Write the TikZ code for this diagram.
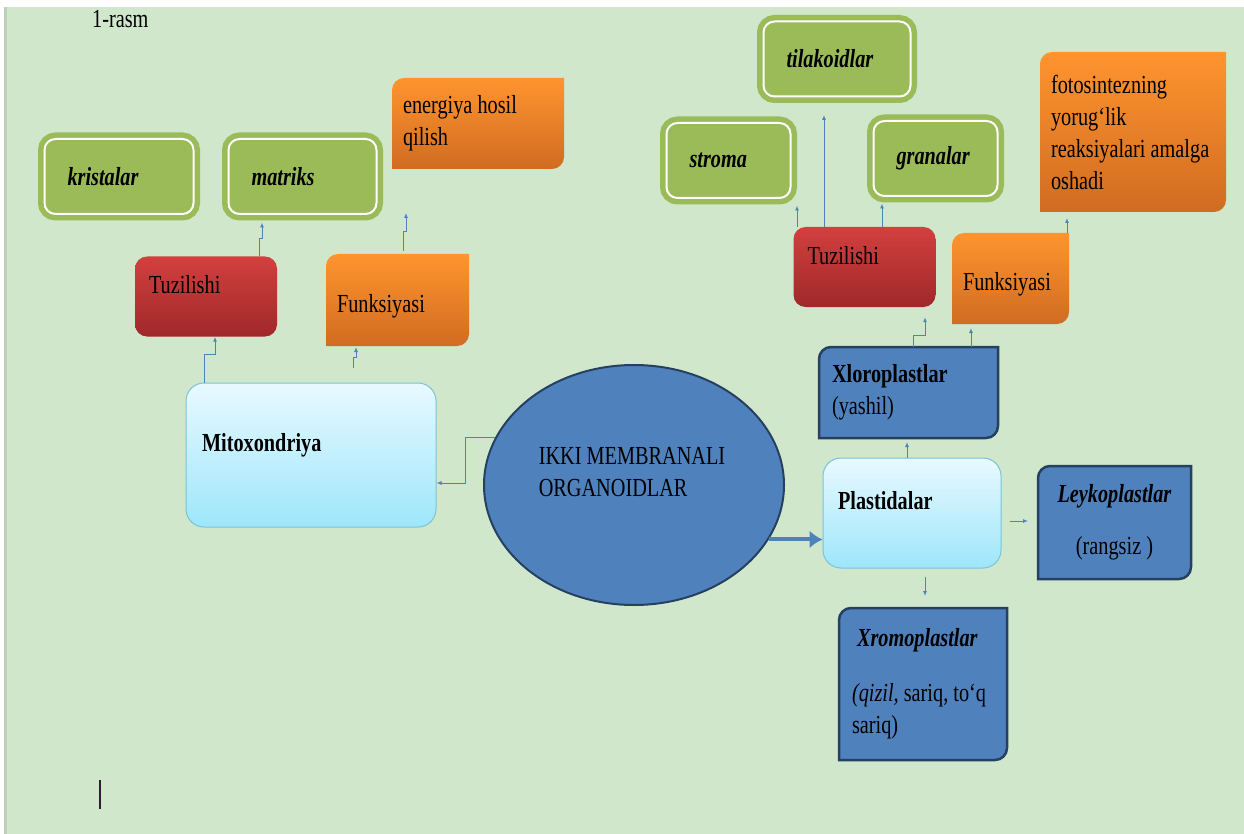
\documentclass[tikz,border=0pt]{standalone}
\usepackage{fontspec}
\setmainfont{Liberation Serif}[FakeStretch=0.78]
\usetikzlibrary{arrows.meta,shapes.geometric}
\definecolor{paper}{RGB}{208,231,203}
\definecolor{paperedge}{RGB}{188,208,188}
\definecolor{leafgreen}{RGB}{155,187,89}
\definecolor{redtop}{RGB}{210,64,62}
\definecolor{redbot}{RGB}{160,40,42}
\definecolor{orgtop}{RGB}{255,148,46}
\definecolor{orgbot}{RGB}{208,108,34}
\definecolor{skytop}{RGB}{232,249,255}
\definecolor{skybot}{RGB}{158,230,251}
\definecolor{skyedge}{RGB}{120,196,218}
\definecolor{plastblue}{RGB}{79,129,189}
\definecolor{plastedge}{RGB}{38,64,98}
\definecolor{linkblue}{RGB}{79,129,189}
\definecolor{caret}{RGB}{50,30,50}
\pgfdeclarelayer{paperlayer}
\pgfdeclarelayer{boxlayer}
\pgfsetlayers{paperlayer,boxlayer,main}

\begin{document}
\begin{tikzpicture}[x=1pt, y=1pt,
  font=\fontsize{26pt}{32pt}\selectfont,
  part/.style={rounded corners=11pt, fill=leafgreen, draw=white, line width=2pt,
    preaction={draw=leafgreen, line width=13pt}, minimum height=75pt, inner xsep=23pt,
    align=flush left, font=\fontsize{26pt}{32pt}\selectfont\bfseries\itshape},
  tuz/.style={rounded corners=12pt, top color=redtop, bottom color=redbot, draw=none,
    minimum height=80pt, inner xsep=14pt, text width=114pt, align=flush left, text depth=24pt},
  slot/.style={draw=none, outer sep=0pt, inner xsep=11pt, align=flush left},
  sky/.style={rounded corners=18pt, top color=skytop, bottom color=skybot, draw=skyedge,
    line width=1pt, inner xsep=16pt, align=flush left, text depth=26pt,
    font=\fontsize{26pt}{32pt}\selectfont\bfseries},
  core/.style={ellipse, fill=plastblue, draw=plastedge, line width=2pt,
    minimum width=300pt, minimum height=240pt, inner sep=0pt},
  fruit/.style={top color=orgtop, bottom color=orgbot},
  plastid/.style={fill=plastblue, draw=plastedge, line width=2.5pt},
  link/.style={draw=linkblue, line width=1pt, -{Latex[length=5pt,width=4pt]}},
  big/.style={draw=linkblue, line width=4pt, -{Latex[length=13pt,width=18pt]}}
]
\useasboundingbox (0,0) rectangle (1244,-834);
\begin{pgfonlayer}{paperlayer}
\fill[white] (0,0) rectangle (1244,-834);
\fill[paper] (4,-7) rectangle (1244,-834);
\fill[paperedge] (4,-7) rectangle (7,-834);
\end{pgfonlayer}

\node[anchor=base west, inner sep=0pt] (fig) at (92,-28) {1-rasm};

% mitoxondriya side
\node[part, text width=103pt] (krist) at (119,-176.5) {kristalar};
\node[part, text width=102pt] (matr) at (302.5,-176.5) {matriks};
\node[tuz] (tuzA) at (206,-296.5) {Tuzilishi};
\node[slot, text width=150pt, minimum height=91pt] (enA) at (478,-123.5) {energiya hosil\\qilish};
\node[slot, text width=121pt, minimum height=92pt, text height=30pt] (funA) at (397.5,-300) {Funksiyasi};
\node[sky, text width=218pt, minimum height=144pt] (mito) at (311,-455) {Mitoxondriya};

% centre
\node[core, label={[name=coretxt, align=left, xshift=-2pt, yshift=13pt]center:IKKI MEMBRANALI\\ORGANOIDLAR}] (core) at (634,-485) {};

% plastidalar side
\node[part, text width=101pt] (tila) at (837,-59) {tilakoidlar};
\node[part, text width=78pt] (strom) at (728.5,-160.5) {stroma};
\node[part, text width=78pt] (gran) at (935.5,-158.5) {granalar};
\node[tuz] (tuzB) at (864.5,-267) {Tuzilishi};
\node[slot, text width=95pt, minimum height=91pt, text height=30pt] (funB) at (1010.5,-278.5) {Funksiyasi};
\node[slot, text width=164pt, minimum height=160pt] (foto) at (1133,-132) {fotosintezning\\yorug‘lik\\reaksiyalari amalga\\oshadi};
\node[slot, inner xsep=13pt, text width=153pt, minimum height=91pt] (xlor) at (908.5,-392.5) {\textbf{Xloroplastlar}\\(yashil)};
\node[sky, inner xsep=15pt, text width=148pt, minimum height=110pt] (plast) at (912,-513) {Plastidalar};
\node[slot, align=flush center, text width=131pt, minimum height=113pt] (leyk) at (1114.5,-522.5) {\textbf{\textit{Leykoplastlar}}\\[20pt](rangsiz )};
\node[slot, inner xsep=13pt, text width=142pt, minimum height=152pt] (xrom) at (923,-684) {\hspace*{5pt}\textbf{\textit{Xromoplastlar}}\\[23pt]\textit{(qizil,} sariq, to‘q\\sariq)};

\begin{pgfonlayer}{boxlayer}
\foreach \n in {enA,funA,funB,foto}
  \path[fruit] (\n.north east) -- ([yshift=12pt]\n.south east) arc[start angle=0, end angle=-90, radius=12pt]
    -- (\n.south west) -- ([yshift=-12pt]\n.north west) arc[start angle=180, end angle=90, radius=12pt] -- cycle;
\foreach \n in {xlor,leyk,xrom}
  \path[plastid] (\n.north east) -- ([yshift=12pt]\n.south east) arc[start angle=0, end angle=-90, radius=12pt]
    -- (\n.south west) -- ([yshift=-12pt]\n.north west) arc[start angle=180, end angle=90, radius=12pt] -- cycle;
\end{pgfonlayer}

% connectors
\draw[link] ([xshift=-107pt]mito.north) -- ++(0,28) -| ([xshift=9pt]tuzA.south);
\draw[link] ([xshift=53pt]tuzA.north) -- ++(0,18) -| ([xshift=-40.5pt,yshift=-7.5pt]matr.south);
\draw[link] ([xshift=42pt,yshift=15pt]mito.north) -- ++(0,10) -| ([xshift=-41.5pt,yshift=-1pt]funA.south);
\draw[link] ([xshift=5.5pt,yshift=3pt]funA.north) -- ++(0,19) -| ([xshift=-72pt,yshift=-44pt]enA.south);
\draw[link] (core.161) -- ++(-30,0) |- ([yshift=-28pt]mito.east);
\draw[big] (core.-22.5) -- (core.-22.5 -| plast.west);
\draw[link, shorten >=4pt] ([xshift=-5pt]plast.north) -- ([xshift=-5pt]plast.north |- xlor.south);
\draw[link, shorten <=8pt, shorten >=12pt] ([xshift=13pt]plast.south) -- ([xshift=13pt]plast.south |- xrom.north);
\draw[link, shorten <=8pt, shorten >=10pt] ([yshift=-8pt]plast.east) -- ([yshift=-8pt]plast.east -| leyk.west);
\draw[link] ([xshift=4.5pt]xlor.north) -- ++(0,12) -| ([xshift=60.5pt,yshift=-10pt]tuzB.south);
\draw[link, shorten >=4pt] ([xshift=62.5pt]xlor.north) -- ([xshift=62.5pt]xlor.north |- funB.south);
\draw[link, shorten >=6.5pt] ([xshift=-67.5pt]tuzB.north) -- ([xshift=-67.5pt]tuzB.north |- strom.south);
\draw[link, shorten >=17.5pt] ([xshift=-40.5pt]tuzB.north) -- ([xshift=-40.5pt]tuzB.north |- tila.south);
\draw[link, shorten >=6.5pt] ([xshift=17.5pt]tuzB.north) -- ([xshift=17.5pt]tuzB.north |- gran.south);
\draw[link, shorten >=6pt] ([xshift=56.5pt]funB.north) -- ([xshift=56.5pt]funB.north |- foto.south);

\draw[caret, line width=1.6pt] (100,-780) -- (100,-809);
\end{tikzpicture}
\end{document}
